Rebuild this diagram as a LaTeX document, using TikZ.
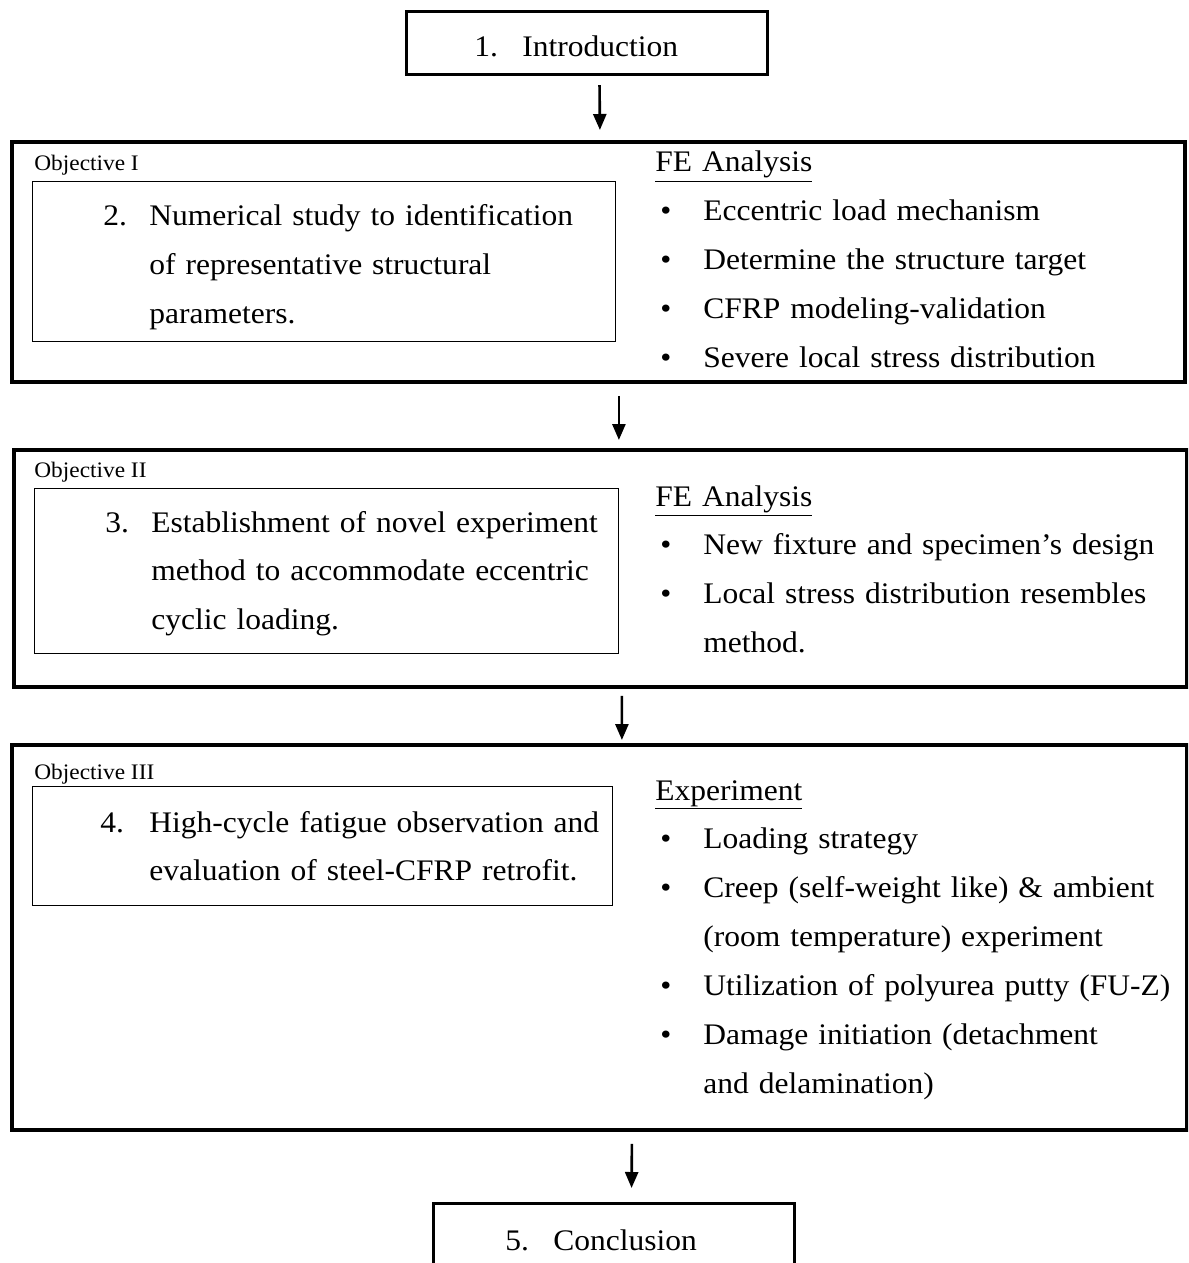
\documentclass[tikz,border=0pt]{standalone}
\usepackage{fontspec}
\setmainfont{Liberation Serif}[FakeStretch=1.055]
\usetikzlibrary{arrows.meta}
\tikzset{>={Triangle[length=0.32cm,width=0.26cm]}}
\tikzset{outerbox/.style = {draw,line width=2.3pt,anchor=north west,inner sep=0pt}}
\tikzset{headbox/.style = {draw,line width=1.8pt,anchor=north west,inner sep=0pt,minimum width=7.22cm,minimum height=1.26cm}}
\tikzset{innerbox/.style = {draw,line width=0.6pt,anchor=north west,inner sep=0pt}}
\tikzset{txt/.style = {anchor=base west,inner sep=0pt,align=left,text width=10.6cm,font=\fontsize{17pt}{0.98cm}\selectfont}}
\tikzset{objlabel/.style = {anchor=base west,inner sep=0pt,font=\fontsize{12.6pt}{14pt}\selectfont}}
\tikzset{flow/.style = {->,line width=1.5pt}}
\newcommand{\itembul}{\makebox[0.96cm][l]{\hspace{0.1cm}\textbullet}}
\newcommand{\itemcont}{\hspace*{0.96cm}}

\begin{document}
\begin{tikzpicture}[x=0.02cm,y=-0.02cm]
                    \clip (0,0) rectangle (1188,1263);

                    \node[headbox] (intro) at (405,10) {};
                    \node[txt] (introtxt) at (474,57) {\makebox[0.96cm][l]{1.}Introduction};

                    \node[outerbox,minimum width=23.46cm,minimum height=4.8cm] (objA) at (10,140) {};
                    \node[objlabel] (labA) at (34,171) {Objective I};
                    \node[innerbox,minimum width=11.66cm,minimum height=3.2cm] (boxA) at (32,181) {};
                    \node[txt] (numA) at (103,226) {2.};
                    \node[txt] (stepA) at (149,226) {Numerical study to identification\\of representative structural\\parameters.};
                    \node[txt] (listA) at (655,172) {\underline{FE Analysis}\\
                        \itembul Eccentric load mechanism\\
                        \itembul Determine the structure target\\
                        \itembul CFRP modeling-validation\\
                        \itembul Severe local stress distribution};

                    \node[outerbox,minimum width=23.46cm,minimum height=4.74cm] (objB) at (12,448) {};
                    \node[objlabel] (labB) at (34,477) {Objective II};
                    \node[innerbox,minimum width=11.68cm,minimum height=3.3cm] (boxB) at (34,488) {};
                    \node[txt] (numB) at (105,532) {3.};
                    \node[txt] (stepB) at (151,532) {Establishment of novel experiment\\method to accommodate eccentric\\cyclic loading.};
                    \node[txt] (listB) at (655,506) {\underline{FE Analysis}\\
                        \itembul New fixture and specimen's design\\
                        \itembul \makebox[9.24cm][s]{Local stress distribution resembles}\\
                        \itemcont method.};

                    \node[outerbox,minimum width=23.5cm,minimum height=7.7cm] (objC) at (10,743) {};
                    \node[objlabel] (labC) at (34,779) {Objective III};
                    \node[innerbox,minimum width=11.6cm,minimum height=2.38cm] (boxC) at (32,786) {};
                    \node[txt] (numC) at (100,832) {4.};
                    \node[txt] (stepC) at (149,832) {High-cycle fatigue observation and\\evaluation of steel-CFRP retrofit.};
                    \node[txt] (listC) at (655,800) {\underline{Experiment}\\
                        \itembul Loading strategy\\
                        \itembul \makebox[9.24cm][s]{Creep (self-weight like) \& ambient}\\
                        \itemcont (room temperature) experiment\\
                        \itembul Utilization of polyurea putty (FU-Z)\\
                        \itembul Damage initiation (detachment\\
                        \itemcont and delamination)};

                    \node[headbox] (concl) at (432,1202) {};
                    \node[txt] (concltxt) at (505,1250) {\makebox[0.96cm][l]{5.}Conclusion};

                    \draw[flow] ([shift={(12.5,9)}]intro.south) -- ([shift={(1.5,-10)}]objA.north);
                    \draw[flow] ([shift={(20.5,12)}]objA.south) -- ([shift={(18.5,-8)}]objB.north);
                    \draw[flow] ([shift={(21.5,7)}]objB.south) -- ([shift={(22.5,-3)}]objC.north);
                    \draw[flow] ([shift={(32.5,12)}]objC.south) -- ([shift={(17.5,-14)}]concl.north);
                \end{tikzpicture}
\end{document}
